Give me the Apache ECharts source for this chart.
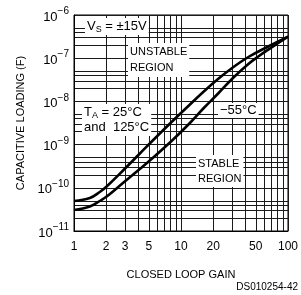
<!DOCTYPE html>
<html>
<head>
<meta charset="utf-8">
<script src="https://cdn.jsdelivr.net/npm/echarts@6/dist/echarts.min.js"></script>
<style>
  html, body { margin: 0; padding: 0; background: #fff; }
  #chart { width: 301px; height: 295px; }
</style>
</head>
<body>
<div id="chart"></div>
<script>
// curve at TA = 25°C and 125°C (upper-left)
var gainWarm = [1, 1.406, 1.741, 2.02, 2.904, 4.173, 5.505, 8.254, 11.86, 16.33, 22.48, 30.95, 42.62, 65.29, 100];
var capWarm = [4.95e-11, 5.81e-11, 8.0e-11, 1.072e-10, 2.58e-10, 6.39e-10, 1.278e-9, 3.42e-9, 8.04e-9, 1.695e-8, 3.39e-8, 6.26e-8, 1.066e-7, 1.866e-7, 3.15e-7];
// curve at -55°C
var gainCold = [1, 1.406, 1.741, 2.02, 2.904, 4.173, 5.505, 8.254, 11.86, 16.33, 22.48, 30.95, 42.62, 52.76, 72.6, 100];
var capCold = [3.06e-11, 3.69e-11, 4.95e-11, 6.29e-11, 1.327e-10, 2.8e-10, 5.03e-10, 1.244e-9, 3.0e-9, 7.04e-9, 1.564e-8, 3.57e-8, 7.34e-8, 1.095e-7, 1.866e-7, 3.15e-7];

// tick labels and grid
var xTickLabels = [1, 2, 3, 5, 10, 20, 50, 100];
var xGrid = [1, 2, 3, 4, 5, 6, 7, 8, 9, 10, 20, 30, 40, 50, 60, 70, 80, 90, 100];
var yDecades = [1e-11, 1e-10, 1e-9, 1e-8, 1e-7, 1e-6];
var yMinorSteps = [1, 2, 3, 4, 5];

var yGrid = [];
yDecades.forEach(function (d, i) {
  if (i === yDecades.length - 1) { yGrid.push(d); return; }
  yMinorSteps.forEach(function (k) { yGrid.push(k * d); });
});

function pairs(xs, ys) {
  return xs.map(function (x, i) { return [x, ys[i]]; });
}

var FONT = 'Liberation Sans';
var chart = echarts.init(document.getElementById('chart'));

// rich styles for the labels with a subscript
var subRich = {
  t: { fontFamily: FONT, fontSize: 13, fill: '#000', lineHeight: 15 },
  s: { fontFamily: FONT, fontSize: 9, fill: '#000', lineHeight: 9, verticalAlign: 'bottom' }
};

var option = {
  animation: false,
  backgroundColor: '#fff',
  textStyle: { fontFamily: FONT, color: '#000' },
  grid: {
    left: 74, top: 15, width: 216, height: 216,
    show: true, borderColor: '#000', borderWidth: 1
  },
  xAxis: {
    type: 'log', logBase: 10, min: 1, max: 100,
    name: 'CLOSED LOOP GAIN',
    nameLocation: 'middle', nameGap: 38,
    nameTextStyle: { fontFamily: FONT, fontSize: 11, color: '#000' },
    axisLine: { show: true, lineStyle: { color: '#000', width: 1 } },
    axisTick: { show: false, customValues: xGrid },
    axisLabel: {
      customValues: xTickLabels,
      margin: 10, fontFamily: FONT, fontSize: 12, color: '#000'
    },
    splitLine: { show: true, lineStyle: { color: '#1a1a1a', width: 1 } }
  },
  yAxis: {
    type: 'log', logBase: 10, min: 1e-11, max: 1e-6,
    name: 'CAPACITIVE LOADING (F)',
    nameLocation: 'middle', nameGap: 45, nameRotate: 90,
    nameTextStyle: { fontFamily: FONT, fontSize: 11, color: '#000' },
    axisLine: { show: true, lineStyle: { color: '#000', width: 1 } },
    axisTick: { show: false, customValues: yGrid },
    axisLabel: {
      margin: 5,
      formatter: function (v) {
        var e = Math.round(Math.log10(v));
        return '{b|10}{e|' + (e < 0 ? '\u2212' : '') + Math.abs(e) + '}';
      },
      rich: {
        b: { fontFamily: FONT, fontSize: 13, color: '#000', lineHeight: 17, verticalAlign: 'bottom' },
        e: { fontFamily: FONT, fontSize: 10, color: '#000', lineHeight: 10, verticalAlign: 'top' }
      }
    },
    splitLine: { show: true, lineStyle: { color: '#1a1a1a', width: 1 } }
  },
  series: [
    {
      name: 'TA = 25°C and 125°C',
      type: 'line', smooth: 0.4, symbol: 'none', z: 5,
      lineStyle: { color: '#000', width: 2.6 },
      data: pairs(gainWarm, capWarm)
    },
    {
      name: '-55°C',
      type: 'line', smooth: 0.4, symbol: 'none', z: 5,
      lineStyle: { color: '#000', width: 2.6 },
      data: pairs(gainCold, capCold)
    }
  ],
  graphic: [
    {
      type: 'text', left: 85, top: 18, z: 10,
      style: {
        text: '{t|V}{s|S}{t| = \u00b115V}',
        backgroundColor: '#fff', padding: [1, 2],
        rich: subRich
      }
    },
    {
      type: 'text', left: 128, top: 43, z: 10,
      style: {
        text: 'UNSTABLE\nREGION', font: '11px ' + FONT, fill: '#000',
        lineHeight: 16, backgroundColor: '#fff', padding: [1, 2]
      }
    },
    {
      type: 'text', left: 82, top: 104, z: 10,
      style: {
        text: '{t|T}{s|A}{t| = 25\u00b0C}\n{t|and  125\u00b0C}',
        backgroundColor: '#fff', padding: [1, 2],
        rich: subRich
      }
    },
    {
      type: 'text', left: 218, top: 103, z: 10,
      style: {
        text: '\u221255\u00b0C', font: '13px ' + FONT, fill: '#000',
        backgroundColor: '#fff', padding: [1, 2]
      }
    },
    {
      type: 'text', left: 196, top: 155, z: 10,
      style: {
        text: 'STABLE\nREGION', font: '11px ' + FONT, fill: '#000',
        lineHeight: 15, backgroundColor: '#fff', padding: [1, 2]
      }
    },
    {
      type: 'text', right: 3, top: 282,
      style: { text: 'DS010254-42', font: '10px ' + FONT, fill: '#000' }
    }
  ]
};

chart.setOption(option);
</script>
</body>
</html>
